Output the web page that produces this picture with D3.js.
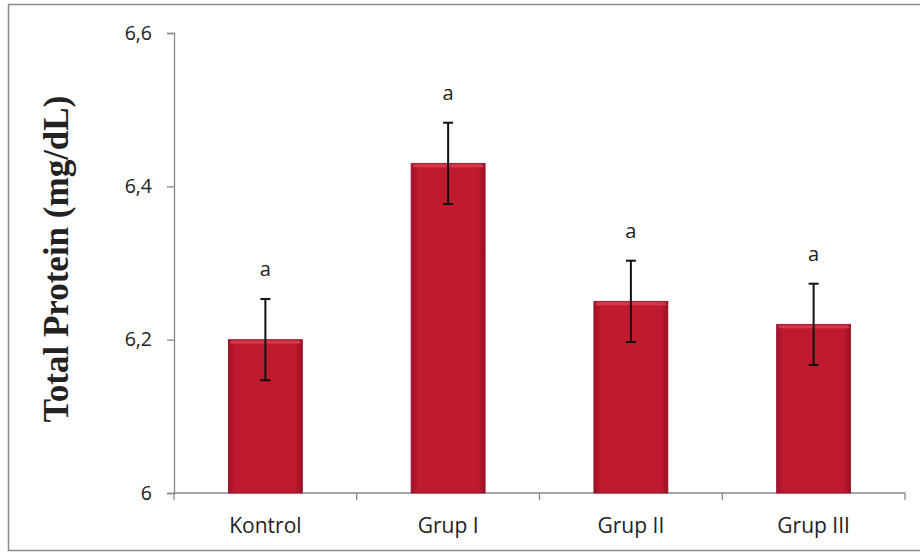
<!DOCTYPE html>
<html>
<head>
<meta charset="utf-8">
<script src="https://cdn.jsdelivr.net/npm/d3@7"></script>
<style>
  html, body { margin: 0; padding: 0; background: #fff; }
  svg { display: block; }
</style>
</head>
<body>
<div id="chart-area"></div>
<script>
/***** Data *****/
const groups  = ["Kontrol", "Grup I", "Grup II", "Grup III"];
const means   = [6.20, 6.43, 6.25, 6.22];
const errors  = [0.053, 0.053, 0.053, 0.053];
const letters = ["a", "a", "a", "a"];
const yTicks  = [6, 6.2, 6.4, 6.6];

/***** Layout *****/
const W = 920, H = 559;
const plot = { left: 174, right: 905, top: 33, bottom: 493 };
const labelFont = "'Open Sans', 'DejaVu Sans', sans-serif";

const svg = d3.select("#chart-area").append("svg")
  .attr("width", W).attr("height", H);

// outer frame
svg.append("rect")
  .attr("x", 8.5).attr("y", 4.5)
  .attr("width", 930).attr("height", 546)
  .attr("fill", "none").attr("stroke", "#8a8a8a").attr("stroke-width", 1.5);

/***** Gradient for bars *****/
const defs = svg.append("defs");
const grad = defs.append("linearGradient").attr("id", "barGrad")
  .attr("x1", 0).attr("x2", 1).attr("y1", 0).attr("y2", 0);
grad.append("stop").attr("offset", "0%").attr("stop-color", "#9e1028");
grad.append("stop").attr("offset", "10%").attr("stop-color", "#c01a2e");
grad.append("stop").attr("offset", "90%").attr("stop-color", "#c01a2e");
grad.append("stop").attr("offset", "100%").attr("stop-color", "#9a0f27");

/***** Scales *****/
const xTickScale = d3.scaleBand().domain(groups).range([plot.left, plot.right]);
const y = d3.scaleLinear().domain([6, 6.6]).range([plot.bottom, plot.top]);

const fmt = d => d3.format(".1f")(d).replace(".", ",").replace(/,0$/, "");

/***** Axes *****/
const gY = svg.append("g").attr("transform", `translate(${plot.left},0)`)
  .call(d3.axisLeft(y).tickValues(yTicks).tickSize(7).tickPadding(15).tickFormat(fmt));
gY.select(".domain").attr("stroke", "#888").attr("stroke-width", 1.3);
gY.selectAll(".tick line").attr("stroke", "#888").attr("stroke-width", 1.3);
gY.selectAll(".tick text")
  .attr("font-family", labelFont)
  .attr("font-size", 19.5).attr("fill", "#222");

const gX = svg.append("g").attr("transform", `translate(0,${plot.bottom})`);
gX.append("line")
  .attr("x1", plot.left).attr("x2", plot.right)
  .attr("stroke", "#888").attr("stroke-width", 1.3);
const boundaries = groups.map(g => xTickScale(g)).concat([plot.right]);
gX.selectAll("line.tk").data(boundaries).join("line").attr("class", "tk")
  .attr("x1", d => d).attr("x2", d => d).attr("y1", 0).attr("y2", 7)
  .attr("stroke", "#888").attr("stroke-width", 1.3);
gX.selectAll("text").data(groups).join("text")
  .attr("x", d => xTickScale(d) + xTickScale.bandwidth() / 2)
  .attr("y", 40)
  .attr("text-anchor", "middle")
  .attr("font-family", labelFont)
  .attr("font-size", 21).attr("fill", "#222")
  .text(d => d);

/***** Bars *****/
const bw = 74;
const cx = g => xTickScale(g) + xTickScale.bandwidth() / 2;
svg.selectAll("rect.bar").data(groups).join("rect").attr("class", "bar")
  .attr("x", g => cx(g) - bw / 2)
  .attr("width", bw)
  .attr("y", (g, i) => y(means[i]))
  .attr("height", (g, i) => y(6) - y(means[i]))
  .attr("fill", "url(#barGrad)")
  .attr("stroke", "#961027").attr("stroke-width", 0.8);
// light top bevel
svg.selectAll("rect.bevel").data(groups).join("rect").attr("class", "bevel")
  .attr("x", g => cx(g) - bw / 2 + 2)
  .attr("width", bw - 4)
  .attr("y", (g, i) => y(means[i]) + 1)
  .attr("height", 3)
  .attr("fill", "#dc4a56").attr("opacity", 0.7);

/***** Error bars *****/
const eb = svg.append("g").attr("stroke", "#111").attr("stroke-width", 2);
groups.forEach((g, i) => {
  const c = cx(g), top = y(means[i] + errors[i]), bot = y(means[i] - errors[i]);
  eb.append("line").attr("x1", c).attr("x2", c).attr("y1", top).attr("y2", bot);
  eb.append("line").attr("x1", c - 5).attr("x2", c + 5).attr("y1", top).attr("y2", top);
  eb.append("line").attr("x1", c - 5).attr("x2", c + 5).attr("y1", bot).attr("y2", bot);
});

/***** Significance letters *****/
svg.selectAll("text.sig").data(groups).join("text").attr("class", "sig")
  .attr("x", g => cx(g))
  .attr("y", (g, i) => y(means[i] + errors[i]) - 23)
  .attr("text-anchor", "middle")
  .attr("font-family", labelFont)
  .attr("font-size", 20).attr("fill", "#222")
  .text((g, i) => letters[i]);

/***** Y title *****/
svg.append("text")
  .attr("transform", `translate(68,259) rotate(-90)`)
  .attr("text-anchor", "middle")
  .attr("font-family", "'Liberation Serif', 'Times New Roman', serif")
  .attr("font-weight", "bold").attr("font-size", 35).attr("fill", "#222")
  .text("Total Protein (mg/dL)");
</script>
</body>
</html>
